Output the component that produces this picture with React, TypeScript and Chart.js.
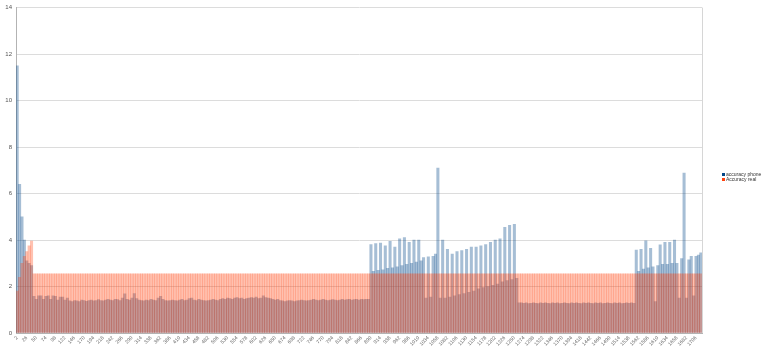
import { useEffect, useRef } from "react";
import { Chart, registerables } from "chart.js";

Chart.register(...registerables);

const seriesNames = ["accuracy phone", "Accuracy real"];
const legendColors = ["#004586", "#ff420e"];

// one category = 6 consecutive samples, first sample index 2
const firstSample = 2;
const sampleStep = 6;
const tickLabelEvery = 4;

const accuracyPhone = [
  11.5, 6.4, 5.0, 4.0, 3.1, 3.0, 2.9,
  1.58, 1.45, 1.6, 1.6, 1.45, 1.58, 1.6, 1.45, 1.6, 1.58,
  1.42, 1.55, 1.55, 1.42, 1.5, 1.38, 1.35, 1.4, 1.38, 1.35,
  1.42, 1.4, 1.36, 1.4, 1.42, 1.38, 1.4, 1.44, 1.4, 1.38,
  1.42, 1.45, 1.42, 1.4, 1.45, 1.44, 1.4, 1.5, 1.68, 1.45,
  1.42, 1.5, 1.7, 1.48, 1.42, 1.4, 1.38, 1.42, 1.4, 1.45,
  1.42, 1.4, 1.5, 1.58, 1.45, 1.4, 1.38, 1.4, 1.42, 1.4,
  1.38, 1.42, 1.45, 1.4, 1.42, 1.48, 1.5, 1.42, 1.4, 1.45,
  1.42, 1.4, 1.38, 1.4, 1.42, 1.45, 1.42, 1.4, 1.45, 1.48,
  1.45, 1.5, 1.48, 1.45, 1.5, 1.52, 1.48, 1.5, 1.45, 1.48,
  1.5, 1.52, 1.5, 1.55, 1.48, 1.5, 1.6, 1.52, 1.5, 1.48,
  1.45, 1.42, 1.45, 1.4, 1.38, 1.35, 1.38, 1.4, 1.38, 1.35,
  1.38, 1.4, 1.42, 1.4, 1.38, 1.4, 1.42, 1.45, 1.42, 1.4,
  1.42, 1.45, 1.42, 1.4, 1.42, 1.44, 1.42, 1.4, 1.42, 1.45,
  1.42, 1.44, 1.45, 1.42, 1.44, 1.45, 1.42, 1.45, 1.44, 1.45,
  1.45,
  3.8, 2.65, 3.85, 2.7, 3.87, 2.72, 3.75, 2.78, 3.94, 2.8, 3.7,
  2.85, 4.05, 2.9, 4.1, 2.95, 3.9, 3.0, 4.0, 3.05, 4.0, 3.1,
  3.25, 1.5, 3.28, 1.55, 3.3, 3.4, 7.1, 1.5,
  4.0, 1.5, 3.6, 1.55, 3.4, 1.6, 3.5, 1.65, 3.55, 1.7, 3.6, 1.75, 3.7, 1.8, 3.7, 1.9,
  3.75, 1.95, 3.8, 2.0, 3.9, 2.05, 4.0, 2.1, 4.05, 2.2, 4.55, 2.25, 4.63, 2.3, 4.68, 2.35,
  1.3,
  1.3, 1.28, 1.3, 1.27, 1.28, 1.3, 1.28, 1.27, 1.3, 1.28,
  1.3, 1.28, 1.27, 1.3, 1.28, 1.3, 1.27, 1.28, 1.3, 1.28,
  1.27, 1.3, 1.28, 1.3, 1.28, 1.27, 1.3, 1.28, 1.3, 1.28,
  1.27, 1.3, 1.28, 1.3, 1.27, 1.28, 1.3, 1.28, 1.27, 1.3,
  1.28, 1.3, 1.27, 1.28, 1.3, 1.28, 1.3, 1.28,
  3.57, 2.65, 3.6, 2.75, 3.97, 2.8, 3.64, 2.85, 1.35, 2.9,
  3.79, 2.95, 3.9, 2.95, 3.9, 3.0, 4.0, 3.0, 1.5, 3.2,
  6.88, 1.5, 3.15, 3.3, 1.6, 3.3, 3.35, 3.45,
];

const accuracyReal = [
  1.8, 2.4, 3.0, 3.3, 3.5, 3.75, 3.95,
  2.55, 2.55, 2.55, 2.55, 2.55, 2.55, 2.55, 2.55, 2.55, 2.55, 2.55, 2.55, 2.55, 2.55, 2.55, 2.55, 2.55, 2.55, 2.55, 2.55,
  2.55, 2.55, 2.55, 2.55, 2.55, 2.55, 2.55, 2.55, 2.55, 2.55, 2.55, 2.55, 2.55, 2.55, 2.55, 2.55, 2.55, 2.55, 2.55, 2.55,
  2.55, 2.55, 2.55, 2.55, 2.55, 2.55, 2.55, 2.55, 2.55, 2.55, 2.55, 2.55, 2.55, 2.55, 2.55, 2.55, 2.55, 2.55, 2.55, 2.55,
  2.55, 2.55, 2.55, 2.55, 2.55, 2.55, 2.55, 2.55, 2.55, 2.55, 2.55, 2.55, 2.55, 2.55, 2.55, 2.55, 2.55, 2.55, 2.55, 2.55,
  2.55, 2.55, 2.55, 2.55, 2.55, 2.55, 2.55, 2.55, 2.55, 2.55, 2.55, 2.55, 2.55, 2.55, 2.55, 2.55, 2.55, 2.55, 2.55, 2.55,
  2.55, 2.55, 2.55, 2.55, 2.55, 2.55, 2.55, 2.55, 2.55, 2.55, 2.55, 2.55, 2.55, 2.55, 2.55, 2.55, 2.55, 2.55, 2.55, 2.55,
  2.55, 2.55, 2.55, 2.55, 2.55, 2.55, 2.55, 2.55, 2.55, 2.55, 2.55, 2.55, 2.55, 2.55, 2.55, 2.55, 2.55, 2.55, 2.55, 2.55,
  2.55, 2.55, 2.55, 2.55, 2.55, 2.55, 2.55, 2.55, 2.55, 2.55, 2.55, 2.55, 2.55, 2.55, 2.55, 2.55, 2.55, 2.55, 2.55, 2.55,
  2.55, 2.55, 2.55, 2.55, 2.55, 2.55, 2.55, 2.55, 2.55, 2.55, 2.55, 2.55, 2.55, 2.55, 2.55, 2.55, 2.55, 2.55, 2.55, 2.55,
  2.55, 2.55, 2.55, 2.55, 2.55, 2.55, 2.55, 2.55, 2.55, 2.55, 2.55, 2.55, 2.55, 2.55, 2.55, 2.55, 2.55, 2.55, 2.55, 2.55,
  2.55, 2.55, 2.55, 2.55, 2.55, 2.55, 2.55, 2.55, 2.55, 2.55, 2.55, 2.55, 2.55, 2.55, 2.55, 2.55, 2.55, 2.55, 2.55, 2.55,
  2.55, 2.55, 2.55, 2.55, 2.55, 2.55, 2.55, 2.55, 2.55, 2.55, 2.55, 2.55, 2.55, 2.55, 2.55, 2.55, 2.55, 2.55, 2.55, 2.55,
  2.55, 2.55, 2.55, 2.55, 2.55, 2.55, 2.55, 2.55, 2.55, 2.55, 2.55, 2.55, 2.55, 2.55, 2.55, 2.55, 2.55, 2.55, 2.55, 2.55,
  2.55, 2.55, 2.55, 2.55, 2.55, 2.55, 2.55, 2.55, 2.55, 2.55, 2.55, 2.55, 2.55, 2.55, 2.55, 2.55, 2.55, 2.55, 2.55, 2.55,
];

const categories = accuracyPhone.map((_, k) => String(firstSample + sampleStep * k));
const tickLabels = categories.filter((_, k) => k % tickLabelEvery === 0);

const FONT = "'Liberation Sans', Arial, sans-serif";

export default function App() {
  const ref = useRef<HTMLCanvasElement>(null);

  useEffect(() => {
    document.body.style.margin = "0";
    const canvas = ref.current;
    if (!canvas) return;

    const sideLegend = {
      id: "sideLegend",
      afterDraw(chart: any) {
        const ctx = chart.ctx;
        const area = chart.chartArea;
        ctx.save();
        ctx.strokeStyle = "#d6d6d6";
        ctx.lineWidth = 1;
        ctx.beginPath();
        ctx.moveTo(Math.round(area.right) + 0.5, area.top);
        ctx.lineTo(Math.round(area.right) + 0.5, area.bottom);
        ctx.stroke();
        ctx.font = `5px ${FONT}`;
        ctx.textBaseline = "middle";
        ctx.textAlign = "left";
        chart.data.datasets.forEach((ds: any, i: number) => {
          const y = 174.5 + i * 5;
          ctx.fillStyle = legendColors[i];
          ctx.fillRect(722, y - 1.5, 3, 3);
          ctx.fillStyle = "#333333";
          ctx.fillText(ds.label, 726, y);
        });
        ctx.restore();
      },
    };

    const chart = new Chart(canvas, {
      type: "bar",
      data: {
        labels: categories,
        datasets: [
          {
            label: seriesNames[0],
            data: accuracyPhone,
            backgroundColor: "rgba(0,69,134,0.35)",
            borderWidth: 0,
            grouped: false,
            order: 1,
            barPercentage: 1,
            categoryPercentage: 1,
          } as any,
          {
            label: seriesNames[1],
            data: accuracyReal,
            backgroundColor: "rgba(255,66,14,0.33)",
            borderWidth: 0,
            grouped: false,
            order: 0,
            barPercentage: 1,
            categoryPercentage: 1,
          } as any,
        ],
      },
      options: {
        animation: false,
        responsive: false,
        devicePixelRatio: 1,
        layout: { padding: { top: 5, right: 66, bottom: 0, left: 0 } },
        plugins: {
          legend: { display: false },
          tooltip: { enabled: false },
        },
        scales: {
          x: {
            grid: { display: false, drawTicks: false },
            border: { display: true, color: "#b3b3b3" },
            ticks: {
              autoSkip: false,
              minRotation: 45,
              maxRotation: 45,
              padding: 2,
              color: "#666666",
              font: { size: 5, family: FONT },
              callback: (_v: any, i: number) =>
                i % tickLabelEvery === 0 ? tickLabels[i / tickLabelEvery] : "",
            },
            afterFit: (s: any) => {
              s.height = 21;
            },
          },
          y: {
            min: 0,
            max: 14,
            ticks: {
              stepSize: 2,
              padding: 4,
              color: "#555555",
              font: { size: 6, family: FONT },
            },
            grid: { color: "#dcdcdc", drawTicks: false },
            border: { display: true, color: "#b3b3b3" },
            afterFit: (s: any) => {
              s.width = 16;
            },
          },
        },
      },
      plugins: [sideLegend],
    });

    return () => chart.destroy();
  }, []);

  return (
    <div style={{ width: 768, height: 354, position: "relative", background: "#ffffff" }}>
      <canvas ref={ref} width={768} height={354} style={{ display: "block" }} />
    </div>
  );
}
